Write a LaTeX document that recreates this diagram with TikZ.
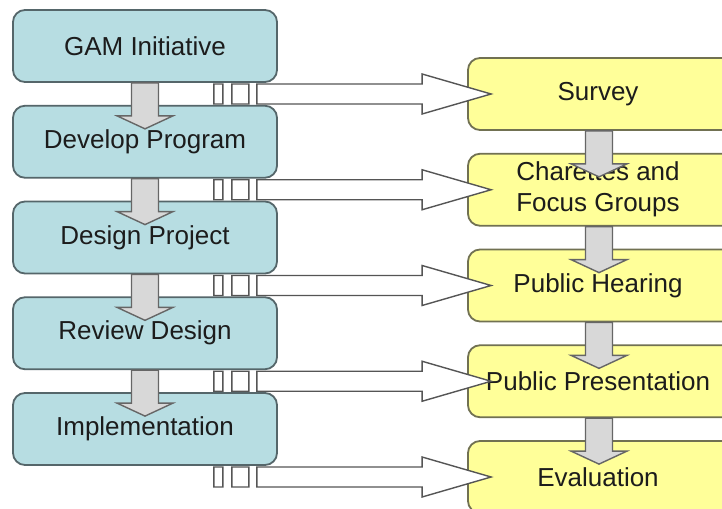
\documentclass[tikz,border=0pt]{standalone}
\usepackage{fontspec}
\setmainfont{Liberation Sans}
\usetikzlibrary{calc}

\definecolor{tealfill}{HTML}{B7DDE2}
\definecolor{tealline}{HTML}{55666A}
\definecolor{yelfill}{HTML}{FFFF99}
\definecolor{yelline}{HTML}{717152}
\definecolor{grayfill}{HTML}{D8D8D8}
\definecolor{grayline}{HTML}{666666}
\definecolor{arrline}{HTML}{555555}
\definecolor{textcol}{HTML}{1C1C1C}

% the right boxes run past the page edge; this pad keeps their text centred
% on the visible part
\newcommand\rpad{\hspace*{30bp}}

% gray block arrow pointing down, from the bottom of one box into the next;
% the optional argument shifts it sideways
\newcommand\dnarrow[3][0]{%
  \draw[dnstyle] let \p1=($(#2.south)+(#1,0)$), \p2=($(#3.north)+(0,24)$) in
    (\x1-13.5bp,\y1) -- (\x1+13.5bp,\y1) -- (\x1+13.5bp,\y2+13bp)
    -- (\x1+28bp,\y2+13bp) -- (\x1,\y2) -- (\x1-28bp,\y2+13bp)
    -- (\x1-13.5bp,\y2+13bp) -- cycle;}

% white striped arrow pointing right, from the left column to a right box
\newcommand\rtarrow[2]{%
  \draw[rtstyle] let \p1=(#1.east), \p2=(#2.west) in
    (\x1-64bp,\y2-10bp) rectangle (\x1-55bp,\y2+10bp)
    (\x1-46bp,\y2-10bp) rectangle (\x1-29bp,\y2+10bp)
    (\x1-21bp,\y2+10bp) -- (\x2-45bp,\y2+10bp) -- (\x2-45bp,\y2+20bp)
    -- (\x2+24bp,\y2) -- (\x2-45bp,\y2-20bp) -- (\x2-45bp,\y2-10bp)
    -- (\x1-21bp,\y2-10bp) -- cycle;}

\begin{document}
\begin{tikzpicture}[x=1bp,y=-1bp,
  boxbase/.style={rounded corners=12bp, line width=1.8bp,
    minimum height=72bp, inner sep=0pt, align=center, text=textcol,
    font=\fontsize{26bp}{31bp}\selectfont},
  leftbox/.style={boxbase, draw=tealline, fill=tealfill, minimum width=264bp},
  rightbox/.style={boxbase, draw=yelline, fill=yelfill, minimum width=290bp},
  dnstyle/.style={draw=grayline, fill=grayfill, line width=1.4bp, line join=miter},
  rtstyle/.style={draw=arrline, fill=white, line width=1.4bp, line join=miter}]

\clip (0,0) rectangle (722,509);
\fill[white] (0,0) rectangle (722,509);

% process steps
\node[leftbox] (L1) at (145,46)     {GAM Initiative};
\node[leftbox] (L2) at (145,141.75) {Develop Program};
\node[leftbox] (L3) at (145,237.5)  {Design Project};
\node[leftbox] (L4) at (145,333.25) {Review Design};
\node[leftbox] (L5) at (145,429)    {Implementation};

% public involvement steps
\node[rightbox] (R1) at (613,94)     {Survey\rpad};
\node[rightbox] (R2) at (613,189.75) {Charettes and\rpad\\Focus Groups\rpad};
\node[rightbox] (R3) at (613,285.5)  {Public Hearing\rpad};
\node[rightbox] (R4) at (613,381.25) {Public Presentation\rpad};
\node[rightbox] (R5) at (613,477)    {Evaluation\rpad};

% links from the process to public involvement
\rtarrow{L1}{R1}
\rtarrow{L2}{R2}
\rtarrow{L3}{R3}
\rtarrow{L4}{R4}
\rtarrow{L5}{R5}

% sequence arrows
\dnarrow{L1}{L2}
\dnarrow{L2}{L3}
\dnarrow{L3}{L4}
\dnarrow{L4}{L5}
\dnarrow[-14]{R1}{R2}
\dnarrow[-14]{R2}{R3}
\dnarrow[-14]{R3}{R4}
\dnarrow[-14]{R4}{R5}
\end{tikzpicture}
\end{document}
